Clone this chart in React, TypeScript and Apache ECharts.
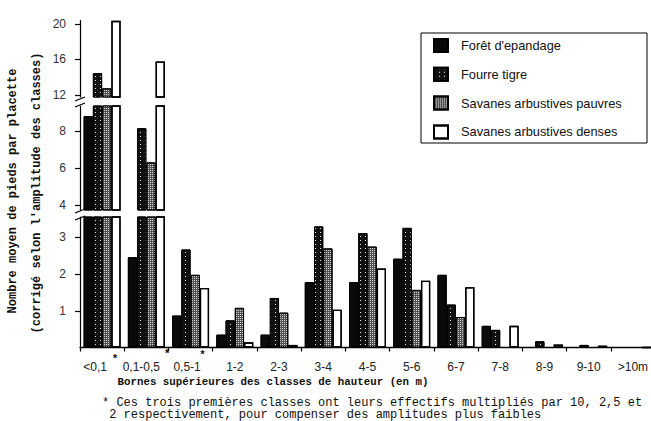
import React, { useEffect, useRef } from "react";
import * as echarts from "echarts";

const categories = ["<0,1", "0,1-0,5", "0,5-1", "1-2", "2-3", "3-4", "4-5", "5-6", "6-7", "7-8", "8-9", "9-10", ">10m"];
const seriesNames = ["Forêt d'epandage", "Fourre tigre", "Savanes arbustives pauvres", "Savanes arbustives denses"];
const foret = [8.8, 2.46, 0.87, 0.35, 0.35, 1.78, 1.78, 2.42, 1.98, 0.59, 0, 0, 0];
const fourre = [14.45, 8.15, 2.67, 0.74, 1.35, 3.3, 3.12, 3.26, 1.17, 0.48, 0.17, 0.07, 0];
const pauvres = [12.75, 6.3, 1.98, 1.08, 0.95, 2.7, 2.75, 1.57, 0.83, 0, 0, 0, 0];
const denses = [20.35, 15.76, 1.62, 0.14, 0.07, 1.03, 2.15, 1.82, 1.64, 0.59, 0.08, 0.05, 0];
const lowerTicks = [1, 2, 3];
const middleTicks = [4, 6, 8];
const upperTicks = [12, 16, 20];
const yTitle1 = "Nombre moyen de pieds par placette";
const yTitle2 = "(corrigé selon l'amplitude des classes)";
const xTitle = "Bornes supérieures des classes de hauteur (en m)";
const note1 = "* Ces trois premières classes ont leurs effectifs multipliés par 10, 2,5 et";
const note2 = "2 respectivement, pour compenser des amplitudes plus faibles";

const seriesData = [foret, fourre, pauvres, denses];

// label right-padding (px) to mimic the hand-set label positions of the first classes
const labelPadRight = [14, 10, 7, 0, 0, 0, 0, 0, 0, 0, 0, 0, 0];

const segments = [
  { top: 217, height: 130.5, min: 0, max: 3.556, ticks: lowerTicks },
  { top: 106, height: 104, min: 3.73, max: 9.35, ticks: middleTicks },
  { top: 20.5, height: 76.5, min: 11.775, max: 20.39, ticks: upperTicks },
];

const noDecal = { symbol: "rect", symbolSize: 1, color: "rgba(0,0,0,0)", dashArrayX: [1, 0], dashArrayY: [1, 0] };

const barStyles: any[] = [
  { color: "#0a0a0a", borderColor: "#000", borderWidth: 1, decal: noDecal },
  {
    color: "#111",
    borderColor: "#000",
    borderWidth: 1,
    decal: { symbol: "rect", symbolSize: 1, color: "#e8e8e8", dashArrayX: [1, 3.2], dashArrayY: [1, 2.4], rotation: 0 },
  },
  {
    color: "#505050",
    borderColor: "#000",
    borderWidth: 1,
    decal: { symbol: "rect", symbolSize: 1, color: "#d4d4d4", dashArrayX: [1, 1], dashArrayY: [1, 1], rotation: 0 },
  },
  { color: "#ffffff", borderColor: "#000", borderWidth: 1.3, decal: noDecal },
];

const mono = '"Liberation Mono", "DejaVu Sans Mono", monospace';
const sans = '"Liberation Sans", Arial, sans-serif';

export default function App() {
  const ref = useRef<HTMLDivElement>(null);
  useEffect(() => {
    if (!ref.current) return;
    const chart = echarts.init(ref.current, null, { renderer: "svg" });

    const grids = segments.map((s) => ({
      left: 80,
      right: -4,
      top: s.top,
      height: s.height,
      outerBoundsMode: "none",
    }));

    const rich: any = {};
    labelPadRight.forEach((p, i) => {
      rich["c" + i] = { fontSize: 12, color: "#222", fontFamily: sans, padding: [0, p, 0, 0] };
    });

    const xAxes = segments.map((s, g) => ({
      type: "category",
      gridIndex: g,
      data: categories,
      show: g === 0,
      axisLine: { show: g === 0, lineStyle: { color: "#000", width: 1.3 } },
      axisTick: { show: g === 0, length: 4, lineStyle: { color: "#000", width: 1.2 } },
      axisLabel: {
        show: g === 0,
        interval: 0,
        fontSize: 12,
        color: "#222",
        margin: 13,
        fontFamily: sans,
        formatter: (v: string, i: number) => `{c${i}|${v}}`,
        rich,
      },
      splitLine: { show: false },
    }));

    const yAxes = segments.map((s, g) => ({
      type: "value",
      gridIndex: g,
      min: s.min,
      max: s.max,
      axisLine: { show: true, lineStyle: { color: "#000", width: 1.2 } },
      axisTick: { show: true, length: 5, customValues: s.ticks, lineStyle: { color: "#000", width: 1.2 } },
      axisLabel: { show: true, customValues: s.ticks, fontSize: 12, color: "#333", margin: 14, fontFamily: sans },
      splitLine: { show: false },
    }));

    const series: any[] = [];
    segments.forEach((s, g) => {
      seriesNames.forEach((name, i) => {
        series.push({
          type: "bar",
          name,
          xAxisIndex: g,
          yAxisIndex: g,
          data: seriesData[i],
          barWidth: 9.25,
          barGap: "0%",
          clip: true,
          silent: true,
          itemStyle: barStyles[i],
          emphasis: { disabled: true },
        });
      });
    });

    const textEl = (text: string, x: number, y: number, font: string, align: string, rotation = 0, lineHeight?: number) => ({
      type: "text",
      x,
      y,
      rotation,
      silent: true,
      style: {
        text,
        font,
        fill: "#111",
        align,
        textAlign: align,
        verticalAlign: "middle",
        textVerticalAlign: "middle",
        ...(lineHeight ? { lineHeight } : {}),
      },
    });

    const breakMark = (y: number) => [
      { type: "line", silent: true, shape: { x1: 75, y1: y + 2, x2: 85, y2: y - 2 }, style: { stroke: "#000", lineWidth: 1.2 } },
    ];

    chart.setOption({
      animation: false,
      backgroundColor: "#fff",
      aria: { enabled: true, decal: { show: true } },
      grid: grids,
      xAxis: xAxes,
      yAxis: yAxes,
      legend: {
        data: seriesNames,
        orient: "vertical",
        left: 433,
        top: 38,
        itemWidth: 14,
        itemHeight: 13,
        itemGap: 13.8,
        padding: 0,
        selectedMode: false,
        icon: "rect",
        textStyle: { fontSize: 12.8, color: "#111", fontFamily: sans, lineHeight: 14, padding: [0, 0, 0, 8] },
      },
      series,
      graphic: [
        {
          type: "rect",
          silent: true,
          shape: { x: 421, y: 33, width: 226, height: 110 },
          style: { fill: "none", stroke: "#000", lineWidth: 1 },
        },
        ...breakMark(99),
        ...breakMark(105),
        ...breakMark(211),
        ...breakMark(218),
        textEl(yTitle1, 13, 191, `bold 12px ${mono}`, "center", Math.PI / 2),
        textEl(yTitle2, 37, 193, `bold 12px ${mono}`, "center", Math.PI / 2),
        textEl(xTitle, 273, 382, `bold 10.8px ${mono}`, "center"),
        textEl(note1 + "\n " + note2, 102, 409, `12px ${mono}`, "left", 0, 12.5),
        textEl("*", 115, 359, `bold 11px ${mono}`, "center"),
        textEl("*", 167, 354, `bold 11px ${mono}`, "center"),
        textEl("*", 202.5, 355, `bold 11px ${mono}`, "center"),
      ],
    });
    return () => chart.dispose();
  }, []);
  return (
    <div
      ref={ref}
      style={{ position: "fixed", left: 0, top: 0, width: 651, height: 421, background: "#fff" }}
    />
  );
}
